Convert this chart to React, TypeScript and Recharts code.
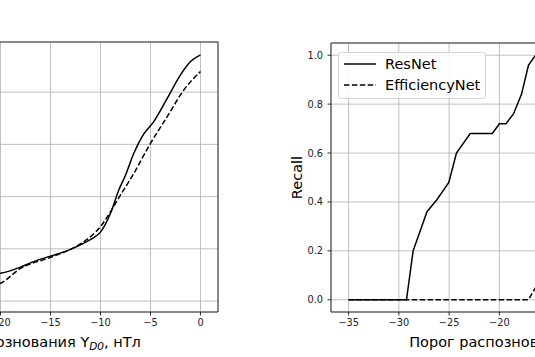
import React from 'react';
import { LineChart, Line, XAxis, YAxis, CartesianGrid, ReferenceArea, Legend, Label } from 'recharts';

const FONT = '"DejaVu Sans", sans-serif';

// ---- tick labels ----
const xTicks = [-35, -30, -25, -20, -15, -10, -5, 0];
const recallTicks = [0, 0.2, 0.4, 0.6, 0.8, 1.0];
const leftTicks = [0, 0.2, 0.4, 0.6, 0.8];

// ---- left panel (metric vs threshold) ----
const leftResNetX = [-35, -32, -29, -26, -23, -21, -20, -18, -16.75, -15, -13, -11.7, -10.8, -10, -9, -8.17, -7.5, -6.67, -5.67, -4.67, -3.33, -2, -1, 0];
const leftResNetY = [0.005, 0.02, 0.04, 0.062, 0.085, 0.1, 0.106, 0.13, 0.15, 0.172, 0.198, 0.221, 0.24, 0.264, 0.336, 0.425, 0.482, 0.566, 0.64, 0.687, 0.776, 0.866, 0.917, 0.943];
const leftEffNetX = [-35, -32, -29, -26, -23, -21, -20, -18, -15, -13, -11.67, -10, -9, -8.3, -6.7, -5, -3.33, -1.67, 0];
const leftEffNetY = [0.005, 0.012, 0.02, 0.03, 0.045, 0.058, 0.068, 0.125, 0.167, 0.198, 0.227, 0.285, 0.342, 0.387, 0.487, 0.604, 0.706, 0.808, 0.879];

// ---- right panel (Recall vs threshold) ----
const rightResNetX = [-35, -29.24, -28.58, -27.2, -26.2, -25.03, -24.27, -22.9, -20.7, -20.0, -19.34, -18.6, -17.8, -17.1, -16.4, -10, -5, 0];
const rightResNetY = [0, 0, 0.2, 0.36, 0.41, 0.48, 0.6, 0.68, 0.68, 0.72, 0.72, 0.76, 0.84, 0.96, 1.0, 1.0, 1.0, 1.0];
const rightEffNetX = [-35, -17.1, -16.4, -15, -13, -11, -9, -7, -5, 0];
const rightEffNetY = [0, 0, 0.05, 0.2, 0.4, 0.6, 0.8, 0.92, 1.0, 1.0];

const seriesNames = ['ResNet', 'EfficiencyNet'];

const zip = (xs: number[], ys: number[]) => xs.map((x, i) => ({ x, y: ys[i] }));

const fmtX = (v: number) => (v < 0 ? '\u2212' + Math.abs(v) : String(v));
const fmtY = (v: number) => v.toFixed(1);

const X_DOMAIN: [number, number] = [-36.75, 1.75];

const renderXLabel = (props: any) => {
  const vb = props.viewBox || {};
  const cx = vb.x + vb.width / 2;
  const y = vb.y + 34.5;
  return (
    <text x={cx} y={y} textAnchor="middle" fontSize={14.5} fontFamily={FONT} fill="#000">
      Порог распознования Y
      <tspan dy={3} fontSize={10.5} fontStyle="italic">D0</tspan>
      <tspan dy={-3}>, нТл</tspan>
    </text>
  );
};

const LegendBox = (props: any) => {
  const payload = [...(props.payload || [])].sort(
    (a: any, b: any) => seriesNames.indexOf(a.value) - seriesNames.indexOf(b.value)
  );
  return (
    <div
      style={{
        position: 'relative',
        width: 148,
        height: 47,
        border: '1px solid #d4d4d4',
        borderRadius: 3,
        background: 'rgba(255,255,255,0.85)',
        boxSizing: 'border-box',
        fontFamily: FONT,
      }}
    >
      {payload.map((entry: any, i: number) => (
        <div
          key={entry.value}
          style={{ position: 'absolute', left: 0, top: 1 + i * 20.6, height: 20, width: 146 }}
        >
          <svg width={34} height={20} style={{ position: 'absolute', left: 4, top: 0 }}>
            <line
              x1={1}
              y1={10}
              x2={33}
              y2={10}
              stroke="#000"
              strokeWidth={1.5}
              strokeDasharray={entry.payload && entry.payload.strokeDasharray ? entry.payload.strokeDasharray : undefined}
            />
          </svg>
          <span
            style={{
              position: 'absolute',
              left: 46,
              top: 0,
              lineHeight: '20px',
              fontSize: 14.5,
              color: '#000',
              whiteSpace: 'nowrap',
            }}
          >
            {entry.value}
          </span>
        </div>
      ))}
    </div>
  );
};

type PanelProps = {
  left: number;
  top: number;
  plotW: number;
  plotH: number;
  yDomain: [number, number];
  yTicks: number[];
  resData: { x: number; y: number }[];
  effData: { x: number; y: number }[];
  yLabel?: string;
  showLegend?: boolean;
  smooth?: boolean;
};

const Y_AXIS_W = 68;
const M_TOP = 10;
const M_RIGHT = 20;
const X_AXIS_H = 50;

function Panel(p: PanelProps) {
  const width = Y_AXIS_W + p.plotW + M_RIGHT;
  const height = M_TOP + p.plotH + X_AXIS_H;
  return (
    <div style={{ position: 'absolute', left: p.left - Y_AXIS_W, top: p.top - M_TOP }}>
      <LineChart width={width} height={height} margin={{ top: M_TOP, right: M_RIGHT, left: 0, bottom: 0 }}>
        <CartesianGrid stroke="#b0b0b0" strokeWidth={0.8} />
        <XAxis
          dataKey="x"
          type="number"
          domain={X_DOMAIN}
          ticks={xTicks}
          allowDataOverflow
          tickFormatter={fmtX}
          height={X_AXIS_H}
          axisLine={false}
          tickLine={{ stroke: '#000', strokeWidth: 0.8 }}
          tickSize={3.5}
          tickMargin={4}
          tick={{ fill: '#222', fontSize: 9.8, fontFamily: FONT }}
        >
          <Label content={renderXLabel} />
        </XAxis>
        <YAxis
          type="number"
          domain={p.yDomain}
          ticks={p.yTicks}
          allowDataOverflow
          tickFormatter={fmtY}
          width={Y_AXIS_W}
          axisLine={false}
          tickLine={{ stroke: '#000', strokeWidth: 0.8 }}
          tickSize={3.5}
          tickMargin={4.5}
          tick={{ fill: '#222', fontSize: 9.8, fontFamily: FONT }}
        >
          {p.yLabel ? (
            <Label value={p.yLabel} angle={-90} position="center" style={{ fontSize: 14.5, fontFamily: FONT, fill: '#000' }} />
          ) : null}
        </YAxis>
        <Line
          data={p.resData}
          dataKey="y"
          name={seriesNames[0]}
          type={p.smooth ? 'monotone' : 'linear'}
          stroke="#000"
          strokeWidth={1.5}
          dot={false}
          activeDot={false}
          isAnimationActive={false}
        />
        <Line
          data={p.effData}
          dataKey="y"
          name={seriesNames[1]}
          type={p.smooth ? 'monotone' : 'linear'}
          stroke="#000"
          strokeWidth={1.5}
          strokeDasharray="5.5 2.4"
          dot={false}
          activeDot={false}
          isAnimationActive={false}
        />
        <ReferenceArea
          x1={X_DOMAIN[0]}
          x2={X_DOMAIN[1]}
          y1={p.yDomain[0]}
          y2={p.yDomain[1]}
          fill="none"
          stroke="#333"
          strokeWidth={1}
          ifOverflow="visible"
        />
        {p.showLegend ? (
          <Legend
            layout="vertical"
            align="center"
            verticalAlign="middle"
            itemSorter={null as any}
            content={<LegendBox />}
            wrapperStyle={{ left: 75, top: 19, width: 148, height: 47 }}
          />
        ) : null}
      </LineChart>
    </div>
  );
}

export default function App() {
  return (
    <div
      style={{
        position: 'absolute',
        left: 0,
        top: 0,
        width: 535,
        height: 357,
        overflow: 'hidden',
        background: '#fff',
        fontFamily: FONT,
      }}
    >
      <Panel
        left={-167.5}
        top={42}
        plotW={385}
        plotH={270}
        yDomain={[-0.042, 0.992]}
        yTicks={leftTicks}
        resData={zip(leftResNetX, leftResNetY)}
        effData={zip(leftEffNetX, leftEffNetY)}
        smooth
      />
      <Panel
        left={331}
        top={43}
        plotW={387}
        plotH={269}
        yDomain={[-0.05, 1.05]}
        yTicks={recallTicks}
        resData={zip(rightResNetX, rightResNetY)}
        effData={zip(rightEffNetX, rightEffNetY)}
        yLabel="Recall"
        showLegend
      />
    </div>
  );
}
